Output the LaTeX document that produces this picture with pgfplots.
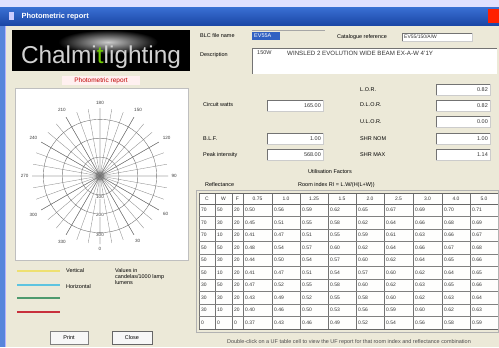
\documentclass[border=0pt]{standalone}
\usepackage{pgfplots}
\pgfplotsset{compat=1.18}
\usepgfplotslibrary{polar}
\usepackage{fontspec}
\setmainfont{Liberation Sans}
\definecolor{winbg}{HTML}{ECE9D8}
\definecolor{tbtop}{HTML}{3A70D4}
\definecolor{tbbot}{HTML}{1B47A6}
\definecolor{selblue}{HTML}{3161C2}
\definecolor{lyel}{HTML}{EEE070}
\definecolor{lcyan}{HTML}{5EC4E0}
\definecolor{lgreen}{HTML}{4E9A6E}
\definecolor{lred}{HTML}{C8303C}
\def\colL{{199,215,232,243,272,300,328,356,384,413,442,470,498}}
\newcommand\tabrow[2]{%
  \foreach \v [count=\j from 0] in {#2} {%
    \pgfmathsetmacro\cx{\colL[\j]+2}%
    \node[anchor=west, inner sep=0pt, text=black!80, font=\fontsize{5}{5}\selectfont] at (\cx,#1) {\v};
  }}
\newcommand\field[5]{% x1,y1,x2,y2,text
  \fill[white] (#1,#2) rectangle (#3,#4);
  \draw[black!55, line width=0.4pt] (#1,#4) -- (#1,#2) -- (#3,#2);
  \draw[black!20, line width=0.4pt] (#1,#4) -- (#3,#4) -- (#3,#2);
  \node[anchor=east, inner sep=0pt, text=black!80] at (#3-2,{(#2+#4)/2}) {#5};
}
\begin{document}
\begin{tikzpicture}[x=1bp,y=-1bp, font=\fontsize{5.5}{6}\selectfont]
\useasboundingbox (0,0) rectangle (499,347);
\clip (0,0) rectangle (499,347);
\fill[winbg] (0,0) rectangle (499,347);
% desktop strip and borders
\fill[blue!12] (0,0) rectangle (499,7);
\fill[tbtop!85] (0,7) rectangle (5,347);
\draw[white!70!blue, line width=0.6pt] (5,25) -- (5,347);
% title bar
\shade[top color=tbtop, bottom color=tbbot] (0,7) rectangle (499,25);
\fill[white!80!blue] (9,12) rectangle (14,20);
\node[anchor=west, text=white, font=\fontsize{7.5}{8}\bfseries] at (18,16.5) {Photometric report};
\fill[red!75!orange] (488,9) rectangle (499,23);
% logo
\fill[black] (12,30) rectangle (190,71);
\begin{scope}
\clip (12,30) rectangle (190,71);
\shade[inner color=white!80!black, outer color=black] (108,42) ellipse (50 and 12);
\end{scope}
\node[text=white!82!black] at (101,57) {\resizebox{160bp}{!}{\fontsize{20}{20}\selectfont Chalmi\textcolor{green!45!yellow!80!black}{t}lighting}};
% photometric report caption
\fill[red!6] (62,76) rectangle (140,85);
\node[text=red!75!black, font=\fontsize{6.5}{7}\selectfont] at (101,80.5) {Photometric report};
% polar panel
\fill[white] (15,88) rectangle (188,260);
\draw[black!25] (15,88) rectangle (188,260);
\begin{polaraxis}[
  at={(100bp,-176bp)}, anchor=origin,
  scale only axis, width=136bp, height=136bp,
  ymin=0, ymax=360,
  xtick={0,30,...,330},
  xticklabels={90,120,150,180,210,240,270,300,330,0,30,60},
  minor xtick={0,10,...,350},
  ytick={100,200,300}, yticklabels={},
  grid=both,
  major grid style={draw=black!55, line width=0.4pt},
  minor grid style={draw=black!45, line width=0.35pt},
  axis line style={draw=none},
  tick style={draw=none},
  xticklabel style={font=\fontsize{4.6}{5}\selectfont, text=black!75},
]
\addplot[draw=none] coordinates {(0,0)};
\node[fill=white, inner sep=0.4pt, font=\fontsize{4.6}{5}\selectfont, text=black!75] at (axis cs:270,110) {100};
\node[fill=white, inner sep=0.4pt, font=\fontsize{4.6}{5}\selectfont, text=black!75] at (axis cs:270,205) {200};
\node[fill=white, inner sep=0.4pt, font=\fontsize{4.6}{5}\selectfont, text=black!75] at (axis cs:270,310) {300};
\end{polaraxis}
% legend
\draw[lyel, line width=1.6pt] (17,271) -- (60,271);
\draw[lcyan, line width=1.6pt] (17,285) -- (60,285);
\draw[lgreen, line width=1.2pt] (17,298) -- (60,298);
\draw[lred, line width=1.6pt] (17,312) -- (60,312);
\node[anchor=west, inner sep=0pt] at (66,271) {Vertical};
\node[anchor=west, inner sep=0pt] at (66,287) {Horizontal};
\node[anchor=north west, inner sep=0pt, align=left] at (115,268) {Values in\\candelas/1000 lamp\\lumens};
% buttons
\fill[white!97!black] (50,331) rectangle (88,344);
\draw[black!50] (50,331) rectangle (88,344);
\node at (69,337.5) {Print};
\fill[white!97!black] (112,331) rectangle (152,344);
\draw[black!60, line width=0.6pt] (112,331) rectangle (152,344);
\node at (132,337.5) {Close};
% right side header
\node[anchor=west, inner sep=0pt] at (200,36) {BLC file name};
\fill[selblue] (252,32) rectangle (280,40);
\node[anchor=west, inner sep=0pt, text=white] at (254,36) {EV55A};
\draw[black!35] (252,30.5) -- (325,30.5);
\node[anchor=west, inner sep=0pt] at (337,37) {Catalogue reference};
\field{402}{33}{472}{41}{}
\node[anchor=west, inner sep=0pt, text=black!80, font=\fontsize{5}{5}\selectfont] at (404,37) {EV55/150/A/W};
\node[anchor=west, inner sep=0pt] at (200,55) {Description};
\fill[white] (252,48) rectangle (497,74);
\draw[black!55] (252,74) -- (252,48) -- (497,48);
\node[anchor=west, inner sep=0pt, text=black!80] at (257,53) {150W};
\node[anchor=west, inner sep=0pt, text=black!80, font=\fontsize{6.2}{7}\selectfont] at (287,53) {WINSLED 2 EVOLUTION WIDE BEAM EX-A-W 4'1Y};
% parameter fields
\node[anchor=west, inner sep=0pt] at (360,90) {L.O.R.};
\field{436}{84}{490}{95}{0.82}
\node[anchor=west, inner sep=0pt] at (203,105) {Circuit watts};
\field{267}{100}{323}{111}{165.00}
\node[anchor=west, inner sep=0pt] at (360,105) {D.L.O.R.};
\field{436}{100}{490}{111}{0.82}
\node[anchor=west, inner sep=0pt] at (360,122) {U.L.O.R.};
\field{436}{116}{490}{127}{0.00}
\node[anchor=west, inner sep=0pt] at (203,139) {B.L.F.};
\field{267}{133}{323}{144}{1.00}
\node[anchor=west, inner sep=0pt] at (360,139) {SHR NOM};
\field{436}{133}{490}{144}{1.00}
\node[anchor=west, inner sep=0pt] at (203,155) {Peak intensity};
\field{267}{149}{323}{160}{568.00}
\node[anchor=west, inner sep=0pt] at (360,155) {SHR MAX};
\field{436}{149}{490}{160}{1.14}
% UF table
\node at (330,172) {Utilisation Factors};
\node[anchor=west, inner sep=0pt] at (205,185) {Reflectance};
\node[anchor=west, inner sep=0pt] at (298,185) {Room index  RI = L.W/(H(L+W))};
\fill[white!96!winbg] (199,193) rectangle (498,329);
\foreach \j in {0,...,12} {
  \pgfmathsetmacro\cx{\colL[\j]}
  \draw[black!55, line width=0.5pt] (\cx,193) -- (\cx,329);
}
\draw[black!60, line width=0.6pt] (199,193) -- (498,193);
\draw[black!60, line width=0.6pt] (199,204) -- (498,204);
\foreach \k in {1,...,9} {
  \draw[black!50, line width=0.45pt] (199,204+12.5*\k) -- (498,204+12.5*\k);
}
\draw[black!60, line width=0.7pt] (199,329) -- (498,329);
\draw[black!30] (196,190) rectangle (498.5,332);
\foreach \h [count=\j from 0] in {C,W,F,0.75,1.0,1.25,1.5,2.0,2.5,3.0,4.0,5.0} {
  \pgfmathtruncatemacro\jn{\j+1}
  \pgfmathsetmacro\xa{\colL[\j]}
  \pgfmathsetmacro\xb{\colL[\jn]}
  \pgfmathsetmacro\cx{(\xa+\xb)/2}
  \node[inner sep=0pt, text=black!80, font=\fontsize{5}{5}\selectfont] at (\cx,198.5) {\h};
}
\tabrow{210.25}{70,50,20,0.50,0.56,0.59,0.62,0.65,0.67,0.69,0.70,0.71}
\tabrow{222.75}{70,30,20,0.45,0.51,0.55,0.58,0.62,0.64,0.66,0.68,0.69}
\tabrow{235.25}{70,10,20,0.41,0.47,0.51,0.55,0.59,0.61,0.63,0.66,0.67}
\tabrow{247.75}{50,50,20,0.48,0.54,0.57,0.60,0.62,0.64,0.66,0.67,0.68}
\tabrow{260.25}{50,30,20,0.44,0.50,0.54,0.57,0.60,0.62,0.64,0.65,0.66}
\tabrow{272.75}{50,10,20,0.41,0.47,0.51,0.54,0.57,0.60,0.62,0.64,0.65}
\tabrow{285.25}{30,50,20,0.47,0.52,0.55,0.58,0.60,0.62,0.63,0.65,0.66}
\tabrow{297.75}{30,30,20,0.43,0.49,0.52,0.55,0.58,0.60,0.62,0.63,0.64}
\tabrow{310.25}{30,10,20,0.40,0.46,0.50,0.53,0.56,0.59,0.60,0.62,0.63}
\tabrow{322.75}{0,0,0,0.37,0.43,0.46,0.49,0.52,0.54,0.56,0.58,0.59}
\node[text=black!70] at (349,342.5) {Double-click on a UF table cell to view the UF report for that room index and reflectance combination};
\end{tikzpicture}
\end{document}
